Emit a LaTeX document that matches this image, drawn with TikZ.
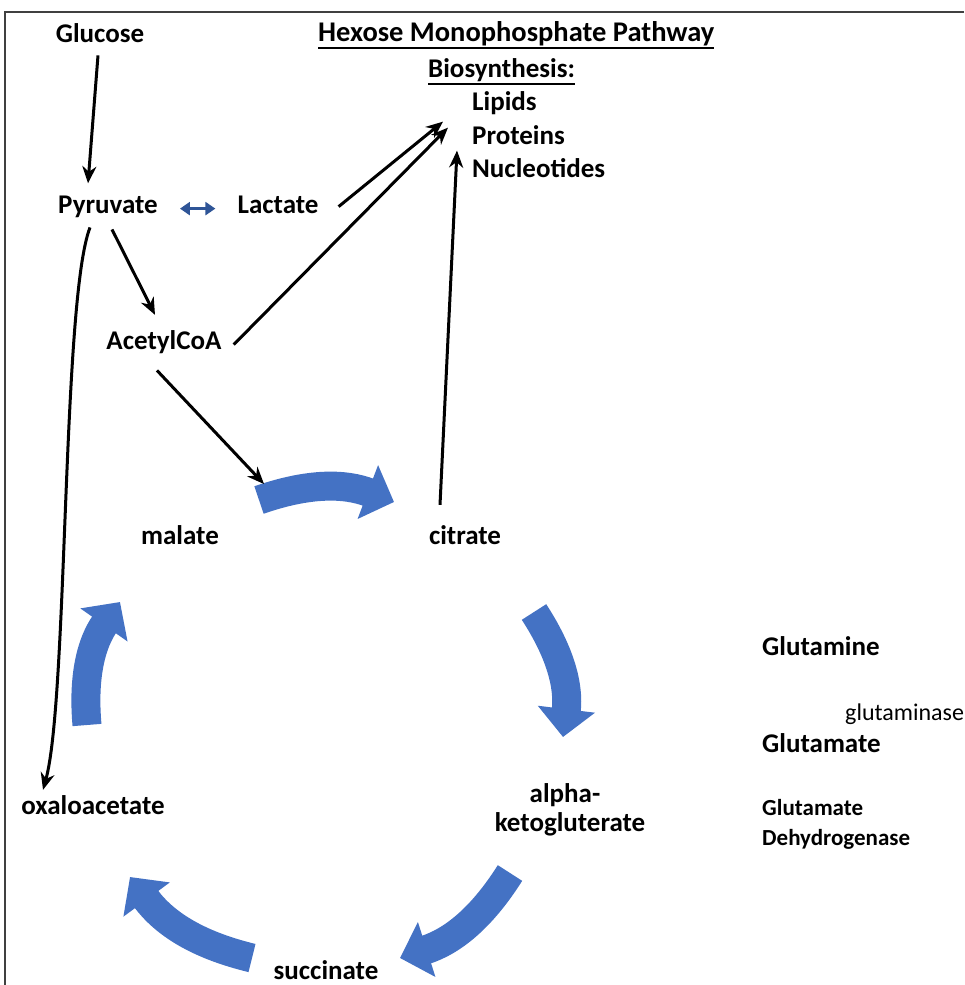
\documentclass[tikz,border=0pt]{standalone}
\usepackage{fontspec}
\setmainfont{Carlito}
\usetikzlibrary{arrows.meta}

\definecolor{cycleblue}{HTML}{4472C4}
\definecolor{darkblue}{HTML}{2F5597}

\begin{document}
\begin{tikzpicture}[x=1pt, y=-1pt,
    lbl/.style={font=\fontsize{27}{32}\selectfont\bfseries, inner sep=0pt, anchor=base},
    smalllbl/.style={font=\fontsize{23}{27}\selectfont\bfseries, inner sep=0pt, anchor=base west},
    arr/.style={-{Stealth[length=17pt, width=14pt]}, line width=3pt},
    cyc/.style={-{Triangle[length=28pt, width=56pt]}, line width=29pt, cycleblue, bend left=20}]

  \useasboundingbox (0,0) rectangle (964,985);
  \draw[black!75, line width=1.5pt] (964,12) -- (5,12) -- (5,985);

  % Nodes for glycolysis
  \node[lbl] (glucose) at (100,42) {Glucose};
  \node[lbl] (pyruvate) at (108,213) {Pyruvate};
  \node[lbl] (lactate) at (278,213) {Lactate};
  \node[lbl] (acetyl) at (164,349) {AcetylCoA};

  % Nodes for biosynthesis
  \node[lbl, font=\fontsize{28.5}{33}\selectfont\bfseries, anchor=base west] (hmp) at (318,41) {Hexose Monophosphate Pathway};
  \node[lbl, anchor=base west] (bio) at (428,77) {Biosynthesis:};
  \node[lbl, anchor=base west] (lipids) at (472,110) {Lipids};
  \node[lbl, anchor=base west] (proteins) at ([yshift=-34pt]lipids.base west) {Proteins};
  \node[lbl, anchor=base west] (nucleo) at ([yshift=-33pt]proteins.base west) {Nucleotides};
  \draw[line width=1.5pt] ([yshift=-7pt]hmp.base west) -- ([yshift=-7pt]hmp.base east);
  \draw[line width=1.5pt] ([yshift=-7pt]bio.base west) -- ([yshift=-7pt]bio.base east);

  % Nodes for the cycle
  \node[lbl] (malate) at (180,544) {malate};
  \node[lbl] (citrate) at (465,544) {citrate};
  \node[lbl] (alpha) at (565,802) {alpha-};
  \node[lbl] (keto) at (570,831) {ketogluterate};
  \node[lbl] (succ) at (326,979) {succinate};
  \node[lbl] (oxalo) at (93,814) {oxaloacetate};

  % Nodes for glutamine
  \node[lbl, anchor=base west] (glutamine) at (762,655) {Glutamine};
  \node[font=\fontsize{24}{28}\selectfont, inner sep=0pt, anchor=base west] (glutaminase) at (845,720) {glutaminase};
  \node[lbl, anchor=base west] (glutamate) at (762,752) {Glutamate};
  \node[smalllbl] (gdh1) at (762,815) {Glutamate};
  \node[smalllbl] (gdh2) at ([yshift=-30pt]gdh1.base west) {Dehydrogenase};

  % Cycle arrows
  \coordinate (c1a) at (259,500);
  \coordinate (c1b) at (394,502);
  \coordinate (c2a) at (534,612);
  \coordinate (c2b) at (563,737);
  \coordinate (c3a) at (510,873);
  \coordinate (c3b) at (400,958);
  \coordinate (c4a) at (252,958);
  \coordinate (c4b) at (130,877);
  \coordinate (c5a) at (87,725);
  \coordinate (c5b) at (120,602);
  \draw[cyc] (c1a) to (c1b);
  \draw[cyc] (c2a) to (c2b);
  \draw[cyc] (c3a) to (c3b);
  \draw[cyc] (c4a) to (c4b);
  \draw[cyc] (c5a) to (c5b);

  % Edges
  \draw[darkblue, line width=3.5pt, {Triangle[length=10pt, width=13pt]}-{Triangle[length=10pt, width=13pt]}]
    ([shift={(22,-2)}]pyruvate.mid east) -- ([shift={(-22,-2)}]lactate.mid west);
  \path[arr]
    ([shift={(-2,13)}]glucose.south) edge ([shift={(-20,-12)}]pyruvate.north)
    ([shift={(4,12)}]pyruvate.south) edge ([shift={(-9,-15)}]acetyl.north)
    ([shift={(20,-4)}]lactate.mid east) edge ([shift={(-29,19)}]lipids.west)
    ([shift={(12,-2)}]acetyl.mid east) edge ([shift={(-24,-7)}]proteins.west)
    ([shift={(-25,-20)}]citrate.north) edge ([shift={(-15,-17)}]nucleo.west)
    ([shift={(-7,17)}]acetyl.south) edge ([shift={(5,-16)}]c1a);
  \draw[arr] ([shift={(-18,10)}]pyruvate.south) .. controls (62,300) and (68,700) .. ([shift={(-50,-5)}]oxalo.north);

\end{tikzpicture}
\end{document}
